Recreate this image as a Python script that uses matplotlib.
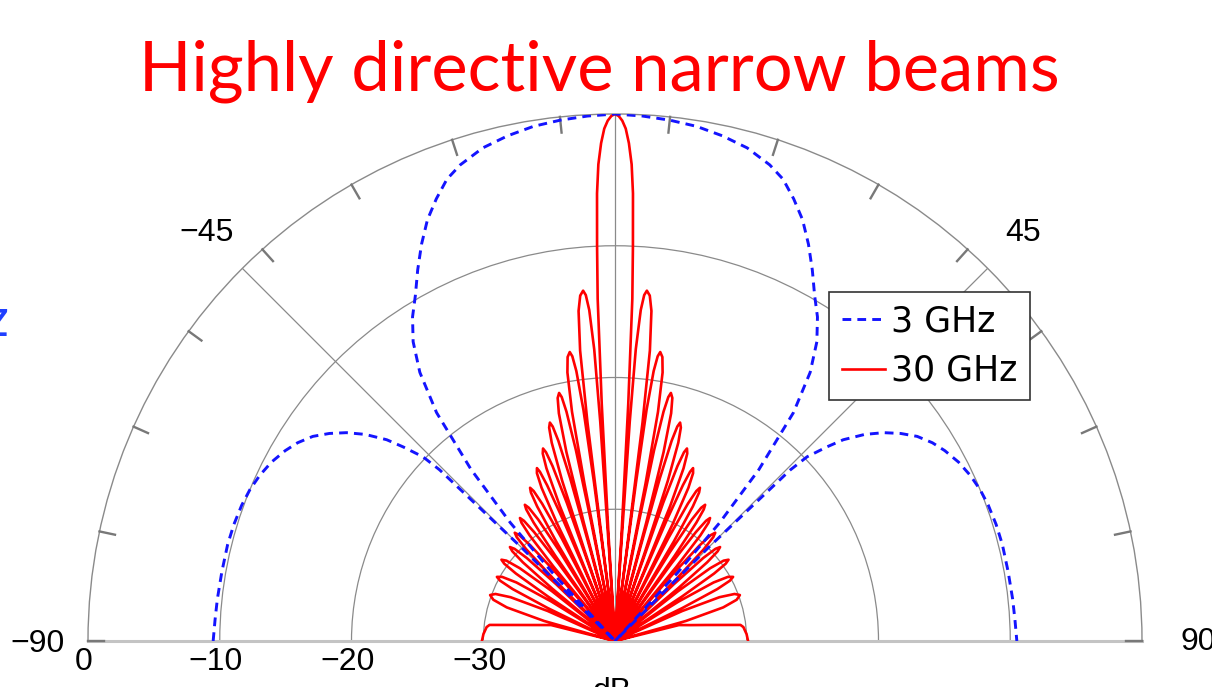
import numpy as np
import matplotlib
matplotlib.use("Agg")
import matplotlib.pyplot as plt
from matplotlib.transforms import offset_copy

# 3 GHz beam, right half (deg from boresight, dB); left half is the mirror
blue_theta = [0, 3, 6, 9, 12, 15, 18, 20, 22, 24, 26, 28, 30, 32, 34, 36, 38, 40, 41.5, 42.5, 43,
              44.5, 45, 45.7, 46.2, 47.5, 48.6, 50.4, 52.2, 54, 55.9, 58, 60, 62.5, 65, 67.5, 70,
              73, 76, 80, 84, 87, 90]
blue_db = [0, -0.1, -0.25, -0.45, -0.8, -1.25, -2.0, -2.7, -3.8, -5.0, -6.5, -8.1, -9.7, -11.0, -12.6,
           -14.8, -18, -23, -28, -33, -40,
           -40, -30, -21.4, -19.8, -18.2, -16.9, -15.4, -14.2, -13.2, -12.3, -11.6, -11.1, -10.6,
           -10.25, -10.0, -9.85, -9.75, -9.7, -9.7, -9.65, -9.6, -9.5]

# 30 GHz beam: main lobe, side lobe peaks / nulls and the end-fire lobe (right half)
main_theta = [0, 0.4, 0.8, 1.2, 1.6, 2.0, 2.3, 2.6, 2.9, 3.2, 3.5, 3.7]
main_db = [0, -0.15, -0.5, -1.1, -2.2, -3.8, -6, -10, -14, -22, -32, -40]
side_peak_theta = [5.2, 8.9, 12.7, 16.6, 20.5, 24.3, 29.0, 33.5, 37.7, 42.8, 48.2, 54.4, 61.5, 69.8]
side_peak_db = [-13.3, -17.8, -20.7, -22.7, -24.4, -25.6, -26.7, -27.6, -28.2, -28.8, -29.3, -29.4, -29.8, -29.9]
side_null_theta = [3.7, 7.4, 11.2, 15.0, 18.8, 22.8, 26.9, 31.1, 35.5, 40.2, 45.3, 50.8, 57.1, 64.7, 75.7]
# shape of a single side lobe: fraction of the way from peak to null, dB below the peak
lobe_frac = [0.97, 0.9, 0.75, 0.5, 0.25]
lobe_drop = [20, 10, 4.5, 1.5, 0.35]
end_theta = [75.7, 76, 78, 80, 82.7, 83.8, 87, 90]
end_db = [-40, -35, -34.2, -33, -30.4, -30.2, -30, -29.9]

series_labels = ["3 GHz", "30 GHz"]
title = "Highly directive narrow beams"


def mirror(theta, db):
    theta = np.asarray(theta, float)
    db = np.asarray(db, float)
    return np.concatenate([-theta[::-1], theta[1:]]), np.concatenate([db[::-1], db[1:]])


def red_half():
    th = list(main_theta)
    db = list(main_db)
    for i, (pk, lvl) in enumerate(zip(side_peak_theta, side_peak_db)):
        n0, n1 = side_null_theta[i], side_null_theta[i + 1]
        th.append(n0)
        db.append(-40)
        for f, d in zip(lobe_frac, lobe_drop):
            th.append(pk - f * (pk - n0))
            db.append(max(lvl - d, -40))
        th.append(pk)
        db.append(lvl)
        for f, d in zip(lobe_frac[::-1], lobe_drop[::-1]):
            th.append(pk + f * (n1 - pk))
            db.append(max(lvl - d, -40))
        th.append(n1)
        db.append(-40)
    th += end_theta
    db += end_db
    return th, db


W, H = 1212, 687
fig = plt.figure(figsize=(W / 100, H / 100), dpi=100)
# polar centre and outer radius in pixels; the half disc sits in the middle of a square box
cx, cy, R = 615, 641, 527
box_cy = (H - cy) + R / 2
ax = fig.add_axes([(cx - R) / W, (box_cy - R) / H, 2 * R / W, 2 * R / H], projection="polar")
ax.set_theta_zero_location("N")
ax.set_theta_direction(-1)
ax.set_thetamin(-90)
ax.set_thetamax(90)
ax.set_ylim(-40, 0)

grid_col = "#8a8a8a"
ax.set_xticks(np.deg2rad([-45, 0, 45]))
ax.set_yticks([-30, -20, -10])
ax.set_xticklabels([])
ax.set_yticklabels([])
ax.grid(True, color=grid_col, lw=0.9, ls="-")
ax.tick_params(length=0)
ax.spines["polar"].set_color(grid_col)
ax.spines["polar"].set_linewidth(1.0)
for s in ("start", "end"):
    ax.spines[s].set_color("#c4c4c4")
    ax.spines[s].set_linewidth(2.2)
ax.spines["inner"].set_visible(False)

# short inward ticks on the outer arc
for a in range(-90, 91, 12):
    ax.plot([np.deg2rad(a)] * 2, [-1.2, 0], color="#787878", lw=1.7, clip_on=False, zorder=3)

bt, bd = mirror(blue_theta, blue_db)
rt, rd = mirror(*red_half())
ax.plot(np.deg2rad(rt), rd, color="#ff0000", lw=1.9, label=series_labels[1], zorder=4)
ax.plot(np.deg2rad(bt), bd, color="#1414ff", lw=2.1, ls=(0, (3.0, 2.1)),
        label=series_labels[0], zorder=5)

tick_font = dict(family=["Liberation Sans", "DejaVu Sans"], fontsize=23, color="black")


def lab(theta_deg, r, s, dx=0, dy=0, **kw):
    tr = offset_copy(ax.transData, fig=fig, x=dx, y=dy, units="dots")
    ax.text(np.deg2rad(theta_deg), r, s, transform=tr, clip_on=False, **tick_font, **kw)


for r in [0, -10, -20, -30]:
    lab(-90, r, str(r).replace("-", "\u2212"), dx=-4, dy=-21, ha="center", va="center")
lab(0, -40, "dB", dx=-3, dy=-36, ha="center", va="top")
lab(-45, 3.8, "\u221245", ha="center", va="center")
lab(45, 3.8, "45", ha="center", va="center")
lab(-90, 0, "\u221290", dx=-23, dy=-3, ha="right", va="center")
lab(90, 0, "90", dx=38, dy=-1, ha="left", va="center")

h, l = ax.get_legend_handles_labels()
leg = fig.legend(h[::-1], l[::-1], loc="upper left", bbox_to_anchor=(829 / W, 1 - 292 / H),
                 borderaxespad=0, fontsize=25, handlelength=1.25, handletextpad=0.18,
                 borderpad=0.36, labelspacing=0.44, fancybox=False, framealpha=1)
leg.get_frame().set_edgecolor("#333333")
leg.get_frame().set_linewidth(1.2)

fig.text(599 / W, 1 - 71 / H, title, color="red", fontsize=49.5, family=["Lato", "DejaVu Sans"],
         ha="center", va="center")
fig.text(8 / W, 1 - 322 / H, "z", color="#1f3fff", fontsize=38, family=["Lato", "DejaVu Sans"],
         ha="right", va="center")

fig.savefig("out.png", dpi=100)
